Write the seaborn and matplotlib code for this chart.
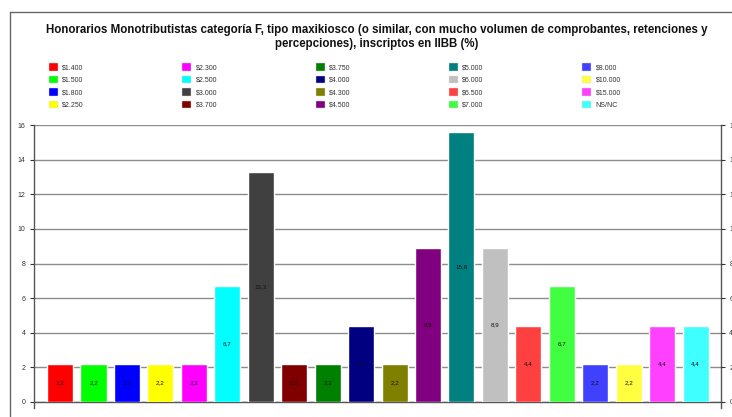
import numpy as np
import pandas as pd
import matplotlib
matplotlib.use("Agg")
import matplotlib.pyplot as plt
import seaborn as sns
from matplotlib.patches import Patch
from matplotlib.lines import Line2D

# datos
honorarios = ["$1.400", "$1.500", "$1.800", "$2.250", "$2.300", "$2.500", "$3.000",
              "$3.700", "$3.750", "$4.000", "$4.300", "$4.500", "$5.000", "$6.000",
              "$6.500", "$7.000", "$8.000", "$10.000", "$15.000", "NS/NC"]
porcentaje = [2.2, 2.2, 2.2, 2.2, 2.2, 6.7, 13.3, 2.2, 2.2, 4.4, 2.2, 8.9,
              15.6, 8.9, 4.4, 6.7, 2.2, 2.2, 4.4, 4.4]
colores = ["#FF0000", "#00FF00", "#0000FF", "#FFFF00", "#FF00FF", "#00FFFF", "#404040",
           "#800000", "#008000", "#000080", "#808000", "#800080", "#008080", "#C0C0C0",
           "#FF4040", "#40FF40", "#4040FF", "#FFFF40", "#FF40FF", "#40FFFF"]
yticks = [0, 2, 4, 6, 8, 10, 12, 14, 16]

df = pd.DataFrame({"honorario": honorarios, "pct": porcentaje})

sns.set_style("white")
plt.rcParams['font.family'] = ['Liberation Sans', 'DejaVu Sans']

W, H = 732, 417
fig = plt.figure(figsize=(W / 100, H / 100), dpi=100)
ax = fig.add_axes([34 / W, 15 / H, (721 - 34) / W, (402 - 125) / H])

sns.barplot(data=df, x="honorario", y="pct", hue="honorario", palette=colores,
            dodge=False, width=0.78, legend=False, saturation=1, ax=ax, zorder=3)

# etiquetas de valor en el centro de cada barra
for cont in ax.containers:
    vals = [f"{b.get_height():.1f}".replace(".", ",") for b in cont]
    ax.bar_label(cont, labels=vals, label_type="center", fontsize=4.5, color="#111111")

ax.set_xlim(-0.78, 19.76)
ax.set_ylim(0, 16)
ax.set_yticks(yticks)
ax.set_xticks([])
ax.set_xlabel("")
ax.set_ylabel("")
ax.grid(axis="y", color="#8c8c8c", linewidth=1, zorder=0)
ax.tick_params(axis="y", labelsize=5, colors="#333333", length=3, width=0.8, pad=3,
               left=True, direction="out")
for s in ["left", "bottom", "right"]:
    ax.spines[s].set_color("#555555")
    ax.spines[s].set_linewidth(1)
ax.spines["top"].set_visible(False)
ax.spines["left"].set_bounds(-0.35, 16)
ax.spines["right"].set_bounds(-0.35, 16)

ax2 = ax.twinx()
ax2.set_ylim(0, 16)
ax2.set_yticks(yticks)
ax2.tick_params(axis="y", labelsize=5, colors="#333333", length=3, width=0.8, pad=3)
for s in ax2.spines.values():
    s.set_visible(False)

# titulo
fig.text(377 / W, 1 - 37 / H,
         "Honorarios Monotributistas categoría F, tipo maxikiosco (o similar, con mucho volumen de comprobantes, retenciones y\npercepciones), inscriptos en IIBB (%)",
         ha="center", va="center", fontsize=8.3, fontweight="bold", linespacing=1.2,
         color="#111111")

# leyenda en 5 columnas
handles = [Patch(facecolor=c, edgecolor="#dddddd", linewidth=0.3) for c in colores]
fig.legend(handles, honorarios, ncol=5, loc="upper left",
           bbox_to_anchor=(49 / W, 1 - 63 / H), frameon=False, fontsize=5,
           handlelength=1.3, handleheight=1.3, handletextpad=0.6,
           columnspacing=14.2, labelspacing=0.64, borderpad=0, borderaxespad=0,
           labelcolor="#333333")

# marco del grafico
fig.add_artist(Line2D([10 / W, 10 / W], [0, 1 - 12 / H], color="#666666", linewidth=1))
fig.add_artist(Line2D([10 / W, 1], [1 - 12 / H, 1 - 12 / H], color="#666666", linewidth=1))

fig.savefig("out.png", dpi=100)
